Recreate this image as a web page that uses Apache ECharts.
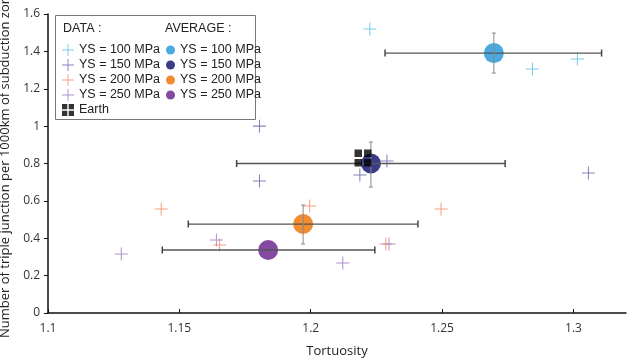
<!DOCTYPE html>
<html>
<head>
<meta charset="utf-8">
<script src="https://cdn.jsdelivr.net/npm/echarts@6/dist/echarts.min.js"></script>
<style>
  html, body { margin: 0; padding: 0; background: #fff; }
  #chart { width: 629px; height: 361px; }
</style>
</head>
<body>
<div id="chart"></div>
<script>
// individual runs [tortuosity, triple junctions per 1000 km]
const ys100 = [[1.2225, 1.52], [1.2844, 1.306], [1.3015, 1.359]]
const ys150 = [[1.1805, 1.0], [1.1805, 0.706], [1.2187, 0.738], [1.229, 0.813], [1.3057, 0.749]]
const ys200 = [[1.1431, 0.556], [1.1996, 0.573], [1.2496, 0.556], [1.1653, 0.364], [1.2286, 0.369]]
const ys250 = [[1.1279, 0.316], [1.1641, 0.391], [1.2298, 0.369], [1.2122, 0.268]]
const earth = [[1.2199, 0.829]]

// averages [x, y, xLow, xHigh, yLow, yHigh]
const avg100 = [1.2697, 1.391, 1.2283, 1.3107, 1.284, 1.498]
const avg150 = [1.2229, 0.800, 1.1718, 1.2740, 0.674, 0.915]
const avg200 = [1.1971, 0.476, 1.1534, 1.2408, 0.369, 0.578]
const avg250 = [1.1838, 0.337, 1.1435, 1.2244, 0.337, 0.337]

const seriesNames = ['YS = 100 MPa', 'YS = 150 MPa', 'YS = 200 MPa', 'YS = 250 MPa']
const crossColors = ['#5cbde6', '#6a60ad', '#f08a5a', '#9a78c4']
const avgColors = ['#3aa2dd', '#2a2b7e', '#f0821e', '#7c3a98']

const crossPath = 'path://M4.6,0h0.8v4.6h4.6v0.8h-4.6v4.6h-0.8v-4.6h-4.6v-0.8h4.6z'
const earthPath = 'path://M0,0h4.4v4.4h-4.4zM5.6,0h4.4v4.4h-4.4zM0,5.6h4.4v4.4h-4.4zM5.6,5.6h4.4v4.4h-4.4z'

const chart = echarts.init(document.getElementById('chart'))
const font = 'Liberation Sans, Arial, sans-serif'

const dataSets = [ys100, ys150, ys200, ys250]
const avgSets = [avg100, avg150, avg200, avg250]

const series = []
dataSets.forEach((d, i) => {
  series.push({
    name: seriesNames[i],
    type: 'scatter',
    symbol: crossPath,
    symbolSize: 13,
    itemStyle: { color: crossColors[i] },
    z: 4,
    data: d,
  })
})
avgSets.forEach((a, i) => {
  series.push({
    name: 'Average ' + seriesNames[i],
    type: 'scatter',
    symbol: 'circle',
    symbolSize: 20,
    itemStyle: { color: avgColors[i], opacity: 0.92 },
    z: 3,
    data: [[a[0], a[1]]],
  })
})
series.push({
  name: 'Earth',
  type: 'scatter',
  symbol: earthPath,
  symbolSize: 17,
  itemStyle: { color: '#000' },
  z: 6,
  data: earth,
})
// error bars
series.push({
  type: 'custom',
  z: 5,
  silent: true,
  data: avgSets,
  renderItem: function(params, api) {
    const y = api.value(1)
    const l = api.coord([api.value(2), y])
    const r = api.coord([api.value(3), y])
    const x = api.value(0)
    const b = api.coord([x, api.value(4)])
    const t = api.coord([x, api.value(5)])
    const children = [
      { type: 'line', shape: { x1: l[0], y1: l[1], x2: r[0], y2: r[1] }, style: { stroke: '#555', lineWidth: 1.3 } },
      { type: 'line', shape: { x1: l[0], y1: l[1] - 3.5, x2: l[0], y2: l[1] + 3.5 }, style: { stroke: '#444', lineWidth: 1.5 } },
      { type: 'line', shape: { x1: r[0], y1: r[1] - 3.5, x2: r[0], y2: r[1] + 3.5 }, style: { stroke: '#444', lineWidth: 1.5 } },
    ]
    if (t[1] < b[1] - 1) {
      children.push(
        { type: 'line', shape: { x1: b[0], y1: b[1], x2: t[0], y2: t[1] }, style: { stroke: '#888', lineWidth: 1 } },
        { type: 'line', shape: { x1: b[0] - 2, y1: b[1], x2: b[0] + 2, y2: b[1] }, style: { stroke: '#888', lineWidth: 1 } },
        { type: 'line', shape: { x1: t[0] - 2, y1: t[1], x2: t[0] + 2, y2: t[1] }, style: { stroke: '#888', lineWidth: 1 } }
      )
    }
    return { type: 'group', children: children }
  },
})

chart.setOption({
  animation: false,
  textStyle: { fontFamily: font },
  grid: { left: 48, right: 3, top: 14, bottom: 48, containLabel: false, outerBoundsMode: 'none' },
  xAxis: {
    type: 'value',
    min: 1.1,
    max: 1.32,
    interval: 0.05,
    name: 'Tortuosity',
    nameLocation: 'middle',
    nameGap: 32,
    nameTextStyle: { fontSize: 13, color: '#222', fontFamily: 'Open Sans' },
    axisLine: { lineStyle: { color: '#111', width: 1.5 } },
    axisTick: { inside: true, length: 4, lineStyle: { color: '#111' } },
    axisLabel: { fontSize: 12, color: '#333', fontFamily: 'Open Sans', showMaxLabel: false, margin: 10 },
    splitLine: { show: false },
  },
  yAxis: {
    type: 'value',
    min: 0,
    max: 1.6,
    interval: 0.2,
    name: 'Number of triple junction per 1000km of subduction zone',
    nameLocation: 'middle',
    nameGap: 32,
    nameTextStyle: { fontSize: 13, color: '#222', fontFamily: 'Open Sans' },
    axisLine: { show: true, lineStyle: { color: '#111', width: 1.5 } },
    axisTick: { show: true, length: 4, lineStyle: { color: '#111' } },
    axisLabel: { fontSize: 12, color: '#333', fontFamily: 'Open Sans', margin: 8 },
    splitLine: { show: false },
  },
  graphic: [
    { type: 'rect', z: 1, shape: { x: 55.5, y: 15.5, width: 200, height: 104 }, style: { fill: '#fff', stroke: '#777', lineWidth: 1 } },
    { type: 'text', z: 2, x: 63, y: 22, style: { text: 'DATA :', fontSize: 12.5, fontFamily: font, fill: '#222' } },
    { type: 'text', z: 2, x: 165, y: 22, style: { text: 'AVERAGE :', fontSize: 12.5, fontFamily: font, fill: '#222' } },
  ],
  legend: [
    {
      orient: 'vertical',
      left: 57,
      top: 38,
      itemWidth: 12,
      itemHeight: 12,
      itemGap: 1,
      textStyle: { fontSize: 12.5, color: '#222', fontFamily: font, lineHeight: 14 },
      data: seriesNames.map((n) => ({ name: n, icon: crossPath })).concat([{ name: 'Earth', icon: earthPath }]),
      selectedMode: false,
    },
    {
      orient: 'vertical',
      left: 161,
      top: 38,
      itemWidth: 9,
      itemHeight: 9,
      itemGap: 1,
      textStyle: { fontSize: 12.5, color: '#222', fontFamily: font, lineHeight: 14 },
      formatter: (name) => name.replace('Average ', ''),
      data: seriesNames.map((n) => ({ name: 'Average ' + n, icon: 'circle' })),
      selectedMode: false,
    },
  ],
  series: series,
})
</script>
</body>
</html>
